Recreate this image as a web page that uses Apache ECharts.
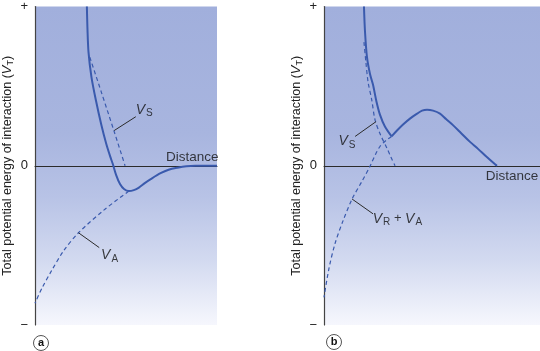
<!DOCTYPE html>
<html>
<head>
<meta charset="utf-8">
<script src="https://cdn.jsdelivr.net/npm/echarts@6/dist/echarts.min.js"></script>
<style>
  html, body { margin: 0; padding: 0; background: #fff; }
  #main { width: 540px; height: 351px; }
</style>
</head>
<body>
<div id="main"></div>
<script>
// panel (a): total energy, steric and attraction curves  [distance, energy]
var vtA = [[2.85, 10], [2.88, 8.69], [2.94, 7.13], [3.10, 5.58], [3.34, 4.14], [3.64, 2.59],
  [3.91, 1.40], [4.13, 0.59], [4.28, 0.09], [4.46, -0.59], [4.67, -1.15], [4.89, -1.46],
  [5.16, -1.59], [5.43, -1.53], [5.71, -1.37], [6.03, -1.09], [6.36, -0.84], [6.90, -0.47],
  [7.34, -0.25], [7.83, -0.12], [8.32, -0.03], [8.80, 0], [10, 0]];
var vsA = [[3.01, 6.82], [3.64, 4.64], [4.35, 2.15], [4.95, 0]];
var vaA = [[5.16, -1.59], [3.80, -2.77], [2.39, -4.21], [1.58, -5.33], [0.92, -6.57], [0.38, -7.69], [0, -8.63]];

// panel (b)
var vtB1 = [[1.85, 10], [1.90, 8.38], [1.99, 6.82], [2.13, 5.76], [2.27, 5.08], [2.43, 4.02],
  [2.59, 3.21], [2.82, 2.46], [3.13, 1.84]];
var vtB2 = [[3.13, 1.84], [3.38, 2.21], [3.66, 2.59], [3.98, 2.96], [4.31, 3.27], [4.54, 3.46],
  [4.77, 3.52], [5.05, 3.46], [5.37, 3.27], [5.65, 2.93], [5.97, 2.55], [6.34, 2.06],
  [6.76, 1.50], [7.13, 1.06], [7.50, 0.59], [7.92, 0.09], [8.01, 0]];
var vsB = [[1.85, 7.76], [1.94, 6.51], [2.04, 5.26], [2.21, 4.14], [2.36, 2.90], [2.59, 2.02],
  [2.92, 1.09], [3.10, 0.53], [3.29, 0]];
var vravB = [[3.13, 1.84], [2.87, 1.59], [2.59, 1.21], [2.36, 0.65], [2.13, -0.03], [1.76, -0.97],
  [1.30, -2.09], [0.88, -3.46], [0.51, -4.89], [0.23, -6.45], [0, -8.26]];

// annotation leaders and label anchors
var leadA = [[[4.35, 2.21], [5.54, 3.08]], [[2.39, -4.21], [3.53, -5.14]]];
var leadB = [[[2.41, 2.77], [1.44, 1.84]], [[1.30, -2.09], [2.27, -3.02]]];
var labelsA = [[6.0, 3.52, '{v|V}{s|S}'], [4.1, -5.64, '{v|V}{s|A}'], [8.64, 0.55, 'Distance']];
var labelsB = [[1.06, 1.53, '{v|V}{s|S}'], [3.4, -3.33, '{v|V}{s|R}{t| + }{v|V}{s|A}'], [8.7, -0.65, 'Distance']];
var yTicks = ['−', '0', '+'];

var blue = '#3a5aad';
var ink = '#2b2b2b';
var font = 'Liberation Sans, Arial, sans-serif';

var bg = new echarts.graphic.LinearGradient(0, 0, 0, 1, [
  { offset: 0, color: '#a1afdc' },
  { offset: 0.4, color: '#a8b5df' },
  { offset: 0.6, color: '#b8c3e6' },
  { offset: 0.8, color: '#d3daf0' },
  { offset: 1, color: '#f6f7fd' }
]);

var rich = {
  v: { fontSize: 14, fontStyle: 'italic', color: '#111', fontFamily: font },
  s: { fontSize: 10, color: '#111', fontFamily: font, padding: [7, 0, 0, 1] },
  t: { fontSize: 13, color: '#111', fontFamily: font }
};

function curve(data, idx, dashed) {
  return {
    type: 'line', xAxisIndex: idx, yAxisIndex: idx, data: data,
    showSymbol: false, smooth: 0.3, silent: true,
    lineStyle: { color: blue, width: dashed ? 1.2 : 2, type: dashed ? [4, 3] : 'solid' }
  };
}
function leader(seg, idx) {
  return {
    type: 'line', xAxisIndex: idx, yAxisIndex: idx, data: seg,
    showSymbol: false, silent: true, lineStyle: { color: ink, width: 1 }
  };
}
function labels(list, idx) {
  return {
    type: 'scatter', xAxisIndex: idx, yAxisIndex: idx, symbolSize: 0, silent: true,
    data: list.map(function (d) { return { value: [d[0], d[1]], name: d[2] }; }),
    label: {
      show: true, position: 'inside', color: '#111', fontSize: 13.5, fontFamily: font,
      formatter: function (p) { return p.name; }, rich: rich
    }
  };
}
function xAx(idx) {
  return {
    type: 'value', gridIndex: idx, min: 0, max: 10,
    axisLine: { show: true, onZero: true, lineStyle: { color: ink, width: 1 } },
    axisTick: { show: false }, axisLabel: { show: false }, splitLine: { show: false }
  };
}
function yAx(idx, gap) {
  return {
    type: 'value', gridIndex: idx, min: -10, max: 10, interval: 10,
    name: 'Total potential energy of interaction ({i|V}{u|T})',
    nameLocation: 'middle', nameRotate: 90, nameGap: gap,
    nameTextStyle: {
      color: '#222', fontSize: 12.5, fontFamily: font,
      rich: {
        i: { fontSize: 13, fontStyle: 'italic', color: '#222', fontFamily: font },
        u: { fontSize: 9, color: '#222', fontFamily: font, padding: [6, 0, 0, 0] }
      }
    },
    axisLine: { show: true, lineStyle: { color: '#444', width: 1.2 } },
    axisTick: { show: false }, splitLine: { show: false },
    axisLabel: {
      color: '#222', fontSize: 13, fontFamily: font, margin: 7,
      formatter: function (v) { return v > 0 ? yTicks[2] : v < 0 ? yTicks[0] : yTicks[1]; }
    }
  };
}
function badge(cx, cy, txt) {
  return {
    type: 'group', children: [
      { type: 'circle', shape: { cx: cx, cy: cy, r: 7.5 }, style: { fill: '#fff', stroke: '#555', lineWidth: 1 } },
      { type: 'text', x: cx, y: cy, style: { text: txt, fill: '#111', font: 'bold 11px ' + font, align: 'center', verticalAlign: 'middle' } }
    ]
  };
}

var chart = echarts.init(document.getElementById('main'), null, { renderer: 'canvas' });
chart.setOption({
  animation: false,
  backgroundColor: '#fff',
  grid: [
    { left: 33, top: 4, width: 184, height: 321, show: true, borderWidth: 0, backgroundColor: bg },
    { left: 324, top: 4, width: 216, height: 321, show: true, borderWidth: 0, backgroundColor: bg }
  ],
  xAxis: [xAx(0), xAx(1)],
  yAxis: [yAx(0, 20), yAx(1, 20)],
  series: [
    curve(vtA, 0, false), curve(vsA, 0, true), curve(vaA, 0, true),
    leader(leadA[0], 0), leader(leadA[1], 0), labels(labelsA, 0),
    curve(vtB1, 1, false), curve(vtB2, 1, false), curve(vsB, 1, true), curve(vravB, 1, true),
    leader(leadB[0], 1), leader(leadB[1], 1), labels(labelsB, 1)
  ],
  graphic: [badge(41, 343, 'a'), badge(334, 342, 'b')]
});
</script>
</body>
</html>
